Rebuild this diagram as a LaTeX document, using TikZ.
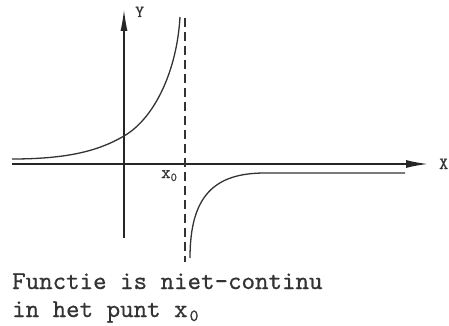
\documentclass[tikz,border=0pt]{standalone}
\usepackage{fontspec}
\usetikzlibrary{arrows.meta}
\newfontfamily\tw[FakeBold=0.6]{lmmono10-regular.otf}
\begin{document}
\begin{tikzpicture}[x=1pt,y=-1pt,
  axis/.style={line width=1.6pt, color=black!85},
  curve/.style={line width=1.3pt, color=black!80},
  asym/.style={line width=1.5pt, dash pattern=on 9pt off 5pt, color=black!80},
  lbl/.style={inner sep=0pt, anchor=base west, text=black!80}]
\useasboundingbox (0,0) rectangle (449,326);
\coordinate (xs) at (12,164);
\coordinate (xe) at (428,164);
\coordinate (ys) at (124,238);
\coordinate (ye) at (124,9);
\coordinate (ds) at (185,18);
\coordinate (de) at (185,262);
\coordinate (la) at (12,159);
\coordinate (lb) at (124,136);
\coordinate (lc) at (180,17);
\coordinate (ra) at (190,258);
\coordinate (rb) at (265,173);
\coordinate (rc) at (405,173);
\draw[axis,-{Latex[length=22pt,width=8pt]}] (xs) -- (xe);
\draw[axis,-{Latex[length=22pt,width=7pt]}] (ys) -- (ye);
\draw[asym] (ds) -- (de);
\draw[curve] (la) .. controls (70,159) and (100,150) .. (lb)
  .. controls (155,118) and (177,70) .. (lc);
\draw[curve] (ra) .. controls (190,195) and (215,173) .. (rb) -- (rc);
\node[lbl] (ylab) at (135,17) {\fontsize{17}{17}\tw Y};
\node[lbl] (xlab) at (439,169) {\fontsize{17}{17}\tw X};
\node[lbl] (x0) at (161,178) {\fontsize{18}{18}\tw x\raisebox{-3pt}{\fontsize{12}{12}\tw 0}};
\node[lbl] (cap1) at (12,289) {\fontsize{25.7}{25.7}\tw Functie is niet-continu};
\node[lbl] (cap2) at (12,317) {\fontsize{25.7}{25.7}\tw in het punt x\kern2pt\raisebox{-4pt}{\fontsize{17}{17}\tw 0}};
\end{tikzpicture}
\end{document}
